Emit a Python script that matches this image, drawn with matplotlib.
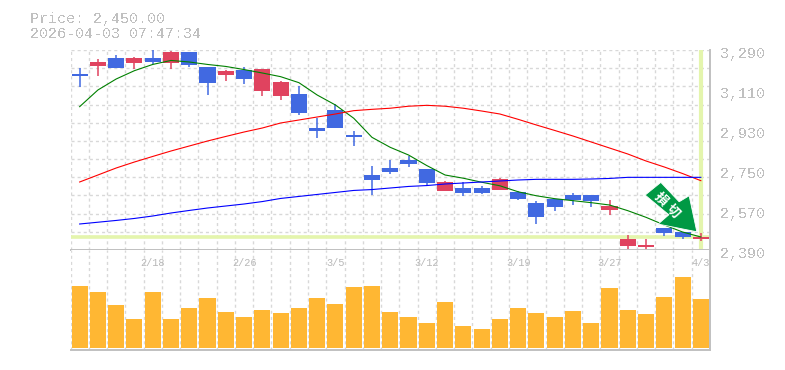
import numpy as np
import matplotlib
matplotlib.use('Agg')
import matplotlib.pyplot as plt
from matplotlib.patches import Polygon
from matplotlib.transforms import Affine2D

plt.rcParams['font.family'] = ['Liberation Mono', 'DejaVu Sans Mono']
plt.rcParams['text.antialiased'] = False

# Candles, oldest first
opens = [3182, 3218, 3254, 3232, 3254, 3232, 3281, 3213, 3177.5, 3200, 3105.5, 3083, 3092, 2939, 3020, 2907.5, 2727.5, 2759,
         2795, 2754.5, 2655.5, 2669, 2669, 2660, 2651, 2601.5, 2619.5, 2637.5, 2637.5, 2570, 2408, 2403.5, 2488, 2472, 2439.5]
closes = [3173, 3236, 3209, 3254, 3236, 3281, 3222, 3141, 3195.5, 3159.5, 3204.5, 3146, 3006.5, 2925.5, 2939, 2898.5, 2705, 2741,
          2777, 2691.5, 2696, 2646.5, 2646.5, 2709.5, 2619.5, 2538.5, 2583.5, 2615, 2610.5, 2588, 2439.5, 2412.5, 2466, 2448.5, 2450]
highs = [3209, 3250, 3268, 3258, 3290, 3285, 3281, 3213, 3200, 3213, 3204.5, 3150, 3128, 2984, 3047, 2925.5, 2768, 2795,
         2813, 2754.5, 2700.5, 2696, 2678, 2714, 2655.5, 2610.5, 2619.5, 2646.5, 2637.5, 2615, 2457.5, 2439.5, 2488, 2472, 2466]
lows = [3124, 3173, 3209, 3205, 3227, 3205, 3213, 3087, 3150.5, 3137, 3083, 3065, 2997.5, 2894, 2939, 2858, 2637.5, 2732,
        2763.5, 2682.5, 2655.5, 2633, 2642, 2660, 2615, 2507, 2565.5, 2592.5, 2583.5, 2547.5, 2394.5, 2385.5, 2453, 2439.5, 2430.5]
blue_flags = [1, 0, 1, 0, 1, 0, 1, 1, 0, 1, 0, 0, 1, 1, 1, 1, 1, 1,
              1, 1, 0, 1, 1, 0, 1, 1, 1, 1, 1, 0, 0, 0, 1, 1, 0]

# Moving averages
ma_short = [3035, 3110, 3159.5, 3197, 3225, 3243, 3236, 3225, 3216, 3202, 3186.5, 3170, 3143, 3087.5, 3042.5, 2983, 2897, 2852,
            2817.5, 2770, 2727.5, 2713, 2695, 2679, 2652, 2634, 2621, 2612, 2603, 2592.5, 2567, 2537, 2502.5, 2471, 2448.5]
ma_long = [2696, 2727.5, 2759, 2786, 2811, 2835.5, 2858, 2880.5, 2901, 2921, 2939, 2961.5, 2975, 2988.5, 3002, 3017, 3023, 3028,
           3037, 3041, 3037, 3028, 3015.5, 3002, 2978, 2952.5, 2928, 2903, 2876, 2849, 2822, 2790.5, 2763.5, 2734, 2702]
ma_base = [2507, 2515, 2523, 2532, 2543, 2556.5, 2568, 2579, 2588, 2597, 2608, 2622, 2631, 2640, 2649, 2658, 2662, 2669,
           2676, 2680, 2687, 2691.5, 2696, 2700.5, 2705, 2708, 2708, 2708, 2709.5, 2712, 2717, 2717, 2717, 2717, 2717]

volumes = [62, 56, 43, 29, 56, 29, 40, 50, 36, 31, 38, 35, 40, 50, 44, 61, 62, 36,
           31, 25, 46, 22, 19, 29, 40, 35, 31, 37, 25, 60, 38, 34, 51, 71, 49]

price_ticks = [3290, 3110, 2930, 2750, 2570, 2390]
date_idx = [4, 9, 14, 19, 24, 29, 34]
date_labels = ['2/18', '2/26', '3/5', '3/12', '3/19', '3/27', '4/3']
last_price = 2450

BLUE = '#4169e1'
RED = '#e0435f'
GRID = '#d8d8d8'
AXIS = '#c0c0c0'
TEXT = '#c0c0c0'
BAND = '#e4f5ad'
W, H = 785, 370
x = np.arange(len(opens))
DASH = (0, (2.2, 2.2))


def add_axes(left, top, right, bottom):
    return fig.add_axes([left / W, 1 - bottom / H, (right - left) / W, (bottom - top) / H])


def style_axes(ax):
    ax.set_xlim(-0.5, len(opens) - 0.5)
    ax.set_xticks(np.arange(len(opens) + 1) - 0.5, minor=True)
    ax.set_xticks([])
    ax.tick_params(which='both', length=0, labelleft=False, labelbottom=False)
    ax.grid(True, which='minor', axis='x', color=GRID, linewidth=1, linestyle=DASH)
    ax.set_axisbelow(True)
    ax.spines['left'].set_visible(False)
    ax.spines['top'].set_visible(False)
    for s in ['right', 'bottom']:
        ax.spines[s].set_color(AXIS)
        ax.spines[s].set_linewidth(1.4)


fig = plt.figure(figsize=(W / 100, H / 100), dpi=100)

# Price panel
ax = add_axes(70.5, 50, 710, 250)
style_axes(ax)
ax.set_ylim(2390, 3290)
ax.set_yticks(np.linspace(2390, 3290, 12), minor=True)
ax.set_yticks([])
ax.grid(True, which='minor', axis='y', color=GRID, linewidth=1, linestyle=DASH)

# Last price cross hair
ax.axhline(last_price, color=BAND, linewidth=2.6, zorder=1)
ax.axvline(x[-1], color=BAND, linewidth=3, ymin=0.01, zorder=1)

for i in x:
    col = BLUE if blue_flags[i] else RED
    ax.vlines(i, lows[i], highs[i], color=col, linewidth=1.1, zorder=2, clip_on=False)
    ax.bar(i, abs(closes[i] - opens[i]), bottom=min(opens[i], closes[i]), width=0.88, color=col, linewidth=0, zorder=3)

ax.plot(x, ma_short, color='green', linewidth=0.8, zorder=4)
ax.plot(x, ma_long, color='red', linewidth=0.8, zorder=4)
ax.plot(x, ma_base, color='blue', linewidth=0.8, zorder=4)

for p in price_ticks:
    ax.annotate(f'{p:,}', xy=(1, p), xycoords=ax.get_yaxis_transform(), xytext=(10, -4), textcoords='offset pixels',
                fontsize=10.8, color=TEXT, va='center', ha='left', annotation_clip=False)

# Stop loss arrow, shape in pixels from its tip
tip = ax.transData.transform((33.78, 2472))
arrow = [(0, 0), (-38.7, -7.7), (-28, -17), (-51.7, -36.7), (-36, -49.4), (-17.7, -30), (-7.7, -36)]
to_canvas = Affine2D().scale(1, -1).translate(*tip)
ax.add_patch(Polygon(arrow, closed=True, facecolor='#009944', edgecolor='white', linewidth=0.6, transform=to_canvas,
                     zorder=6, clip_on=False))
for ch, off in zip('損切', [(-36, 33), (-24, 21)]):
    ax.annotate(ch, xy=(33.78, 2472), xytext=off, textcoords='offset pixels', color='white', fontsize=9.5,
                rotation=-45, rotation_mode='anchor', ha='center', va='center', family=['Noto Sans CJK JP'], weight='bold',
                zorder=7, annotation_clip=False, antialiased=True)

# Volume panel
ax_vol = add_axes(70.5, 250, 710, 350)
style_axes(ax_vol)
ax_vol.set_ylim(-2, 98)
ax_vol.bar(x, volumes, width=0.88, color='#ffb733', linewidth=0, zorder=3)
for i, lab in zip(date_idx, date_labels):
    ax_vol.annotate(lab, xy=(i, 1), xycoords=ax_vol.get_xaxis_transform(), xytext=(0, -13), textcoords='offset pixels',
                    fontsize=7.4, color='#b8b8b8', ha='center', va='center', annotation_clip=False, zorder=5,
                    antialiased=True)

# Header
fig.text(30 / W, 1 - 23 / H, 'Price: 2,450.00', fontsize=10.8, color=TEXT, ha='left', va='baseline')
fig.text(30 / W, 1 - 38 / H, '2026-04-03 07:47:34', fontsize=10.8, color=TEXT, ha='left', va='baseline')

fig.savefig('out.png', dpi=100)
